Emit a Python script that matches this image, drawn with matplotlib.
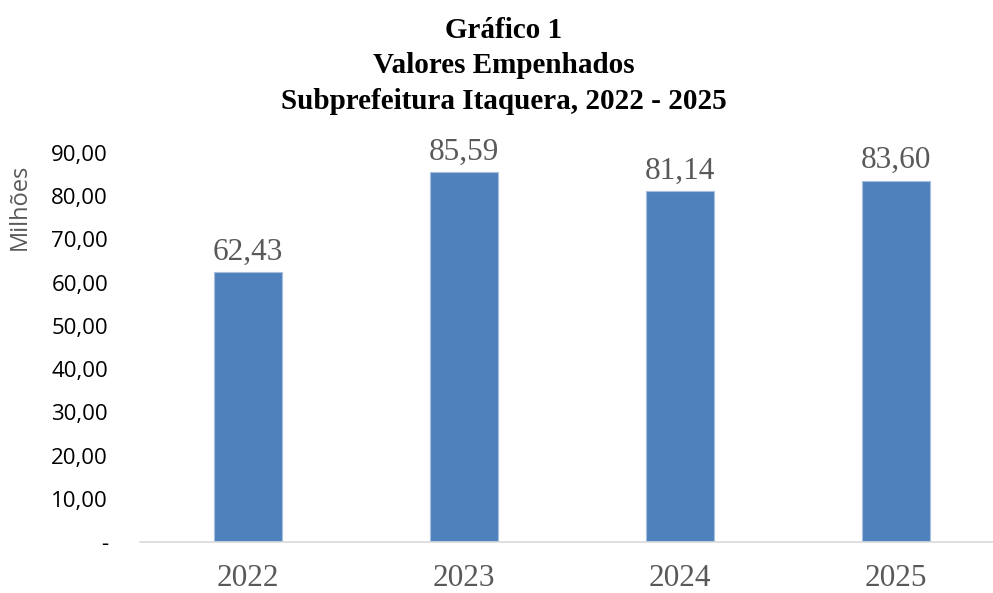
import matplotlib.pyplot as plt
from matplotlib.ticker import FuncFormatter

# values in millions (R$)
anos = ["2022", "2023", "2024", "2025"]
valores = [62.43, 85.59, 81.14, 83.60]
titulo = "Gráfico 1\nValores Empenhados\nSubprefeitura Itaquera, 2022 - 2025"

serif = "Liberation Serif"
sans = "Open Sans"

fig = plt.figure(figsize=(9.93, 5.93), dpi=100)
ax = fig.add_axes([0.141, 0.086, 0.870, 0.656])

x = range(len(anos))
bars = ax.bar(x, valores, width=0.315, color="#4F81BD", edgecolor="#A9BEDC", linewidth=0.8, zorder=2)

for b, v in zip(bars, valores):
    ax.annotate(f"{v:.2f}".replace(".", ","), (b.get_x() + b.get_width() / 2, v),
                xytext=(0, 9), textcoords="offset points", ha="center", va="baseline",
                fontsize=22.5, family=serif, color="#595959", annotation_clip=False)

ax.set_xlim(-0.5, 3.5)
ax.set_ylim(0, 90)
ax.set_xticks(list(x))
ax.set_xticklabels(anos, fontsize=22.5, family=serif, color="#595959")
ax.set_yticks(range(0, 91, 10))


def fmt(v, pos):
    if v == 0:
        return "-"
    return f"{v:.2f}".replace(".", ",")


ax.yaxis.set_major_formatter(FuncFormatter(fmt))
for lab in ax.get_yticklabels():
    lab.set_family(sans)
    lab.set_fontsize(16)
    lab.set_color("black")
ax.tick_params(axis="y", length=0, pad=23)
ax.tick_params(axis="x", length=0, pad=16)

for s in ["top", "right", "left"]:
    ax.spines[s].set_visible(False)
ax.spines["bottom"].set_color("#D9D9D9")
ax.spines["bottom"].set_linewidth(1.2)

fig.text(0.020, 0.651, "Milhões", rotation=90, ha="center", va="center",
         fontsize=17, family=sans, color="#595959")

fig.text(0.507, 0.972, titulo, ha="center", va="top", fontsize=21, fontweight="bold",
         family=serif, linespacing=1.41)

fig.savefig("out.png", dpi=100)
